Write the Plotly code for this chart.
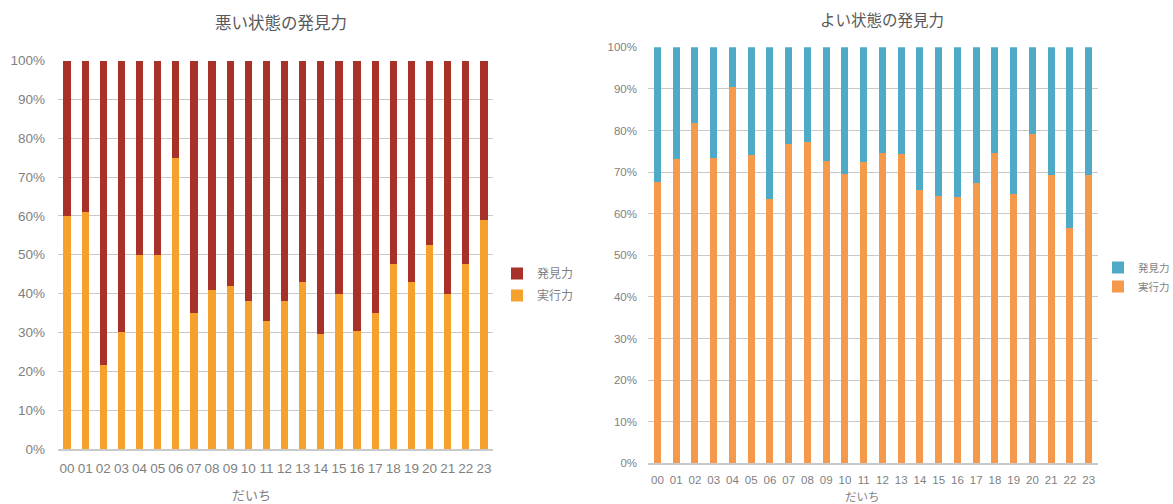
import plotly.graph_objects as go

# Hour labels (00..23) shared by both charts
hours = [f"{h:02d}" for h in range(24)]

# 悪い状態: share of 実行力 / 発見力 per hour (percent)
bad_jikko = [60, 61, 21.5, 30, 50, 50, 75, 35, 41, 42, 38, 33, 38,
             43, 29.5, 40, 30.5, 35, 47.7, 43, 52.5, 40, 47.7, 59]
bad_hakken = [40, 39, 78.5, 70, 50, 50, 25, 65, 59, 58, 62, 67, 62,
              57, 70.5, 60, 69.5, 65, 52.3, 57, 47.5, 60, 52.3, 41]

# よい状態: share of 実行力 / 発見力 per hour (percent)
good_jikko = [67.7, 73.1, 81.7, 73.3, 90.5, 74.1, 63.5, 76.7, 77.3, 72.7, 69.5, 72.4, 74.5,
              74.4, 65.7, 64.3, 63.9, 67.5, 74.5, 64.7, 79.1, 69.2, 56.5, 69.2]
good_hakken = [32.3, 26.9, 18.3, 26.7, 9.5, 25.9, 36.5, 23.3, 22.7, 27.3, 30.5, 27.6, 25.5,
               25.6, 34.3, 35.7, 36.1, 32.5, 25.5, 35.3, 20.9, 30.8, 43.5, 30.8]

left_title = "悪い状態の発見力"
right_title = "よい状態の発見力"
x_title = "だいち"

RED = "#a8312a"
ORANGE_L = "#f5a12e"
BLUE = "#4eaac6"
ORANGE_R = "#f59a4c"
GRID = "#c9c9c9"
TICK = "#7f7f7f"
TITLE = "#595959"

FONT = "Noto Sans CJK JP"
NUM_FONT = "Liberation Sans"

fig = go.Figure()

# stacked bars; legend ranks keep 発見力 listed above 実行力
fig.add_trace(go.Bar(x=hours, y=bad_jikko, name="実行力", marker_color=ORANGE_L,
                     width=0.4, xaxis="x", yaxis="y", legend="legend",
                     legendgroup="a2", legendrank=2))
fig.add_trace(go.Bar(x=hours, y=bad_hakken, name="発見力", marker_color=RED,
                     width=0.4, xaxis="x", yaxis="y", legend="legend",
                     legendgroup="a1", legendrank=1))
fig.add_trace(go.Bar(x=hours, y=good_jikko, name="実行力", marker_color=ORANGE_R,
                     width=0.38, xaxis="x2", yaxis="y2", legend="legend2",
                     legendgroup="b2", legendrank=2))
fig.add_trace(go.Bar(x=hours, y=good_hakken, name="発見力", marker_color=BLUE,
                     width=0.38, xaxis="x2", yaxis="y2", legend="legend2",
                     legendgroup="b1", legendrank=1))

for t in fig.data:
    t.marker.line.width = 0

W, H = 1173, 504


def px_x(v):
    return v / W


def px_y(v):
    return 1 - v / H


yax_common = dict(range=[0, 100], dtick=10, ticksuffix="%", showgrid=True,
                  gridcolor=GRID, gridwidth=1, zeroline=False, showline=False,
                  fixedrange=True, automargin=False)
xax_common = dict(showgrid=False, showline=True, linecolor=GRID, linewidth=1.5,
                  ticks="", type="category", fixedrange=True, automargin=False)


def label(text, x, y, size, color):
    return dict(text=text, x=px_x(x), y=px_y(y), xref="paper", yref="paper",
                xanchor="center", yanchor="middle", showarrow=False,
                font=dict(family=FONT, size=size, color=color))


fig.update_layout(
    width=W, height=H,
    margin=dict(l=0, r=0, t=0, b=0, autoexpand=False),
    paper_bgcolor="white", plot_bgcolor="white",
    barmode="stack",
    font=dict(family=FONT, color=TICK),
    xaxis=dict(domain=[px_x(58), px_x(493)], anchor="y",
               tickfont=dict(family=NUM_FONT, size=13.5, color=TICK),
               ticklabelstandoff=6, **xax_common),
    yaxis=dict(domain=[px_y(449), px_y(60.5)], anchor="x",
               tickfont=dict(family=NUM_FONT, size=13.5, color=TICK),
               ticklabelstandoff=12, **yax_common),
    xaxis2=dict(domain=[px_x(648), px_x(1098)], anchor="y2",
                tickfont=dict(family=NUM_FONT, size=11.5, color=TICK),
                ticklabelstandoff=5, **xax_common),
    yaxis2=dict(domain=[px_y(463.3), px_y(47.3)], anchor="x2",
                tickfont=dict(family=NUM_FONT, size=11.5, color=TICK),
                ticklabelstandoff=10, **yax_common),
    legend=dict(x=px_x(497), y=px_y(259), xanchor="left", yanchor="top",
                traceorder="grouped", tracegroupgap=3,
                font=dict(family=FONT, size=12, color=TICK),
                bgcolor="rgba(0,0,0,0)"),
    legend2=dict(x=px_x(1098), y=px_y(253), xanchor="left", yanchor="top",
                 traceorder="grouped", tracegroupgap=0,
                 font=dict(family=FONT, size=10.5, color=TICK),
                 bgcolor="rgba(0,0,0,0)"),
    annotations=[
        label(left_title, 281, 22, 16.5, TITLE),
        label(right_title, 882, 19, 15.5, TITLE),
        label(x_title, 251, 494, 13, TICK),
        label(x_title, 862, 496, 11.5, TICK),
    ],
)

fig.write_html("out.html")
